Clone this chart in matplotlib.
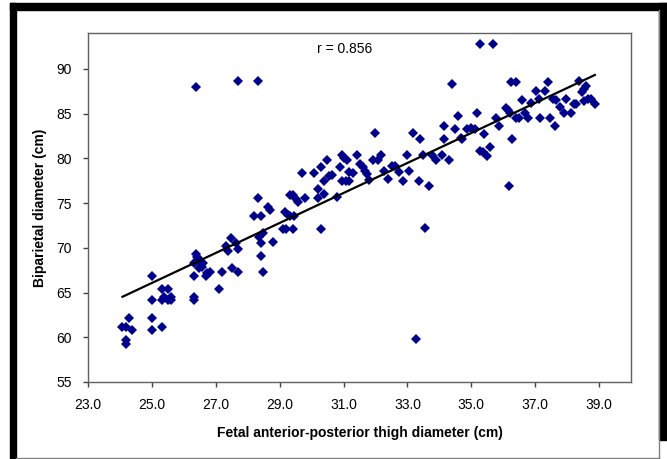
import numpy as np
import matplotlib
matplotlib.use("Agg")
import matplotlib.pyplot as plt
from matplotlib.patches import Rectangle
from matplotlib.lines import Line2D

"""
Biparietal diameter vs fetal anterior-posterior thigh diameter,
scatter with least-squares line (r = 0.856).
"""

# Data
thigh = [
    24.08, 24.20, 24.29, 24.39, 24.20, 24.20, 25.00, 25.00, 25.00, 25.00,
    25.31, 25.49, 25.31, 25.38, 25.49, 25.59, 25.59, 25.31, 26.32, 26.32,
    26.32, 26.32, 26.37, 26.42, 26.48, 26.53, 26.60, 26.48, 26.56, 26.69,
    26.74, 26.82, 27.11, 27.21, 27.32, 27.47, 27.39, 27.50, 27.63, 27.71,
    27.71, 28.31, 28.20, 28.41, 28.34, 28.41, 28.41, 28.49, 28.49, 28.62,
    28.70, 28.80, 26.37, 27.69, 28.31,
    29.32, 29.43, 29.51, 29.59, 29.80, 30.19, 30.40, 30.81, 29.18, 29.25,
    29.32, 29.46, 29.09, 29.20, 29.43, 30.31, 33.56, 33.27,
    34.40, 34.58, 34.16, 34.50, 34.16, 34.71, 32.00, 33.19, 33.40, 29.70,
    30.08, 30.29, 30.47, 30.95, 31.03, 31.10, 31.41, 30.89, 31.18, 31.52,
    31.60, 31.68, 31.72, 30.64, 30.55, 30.40, 30.95, 31.08, 31.18, 31.31,
    31.81, 31.93, 32.07, 32.17, 32.28, 32.38, 32.52, 32.60, 32.75, 32.87,
    33.00, 33.06, 33.37, 33.67, 33.50, 33.77, 33.88, 34.08, 34.29, 30.19,
    35.28, 35.68, 36.25, 36.39, 37.40, 38.37, 38.52, 38.58, 38.47, 37.02,
    37.30, 36.60, 36.88, 37.12, 37.56, 37.66, 37.98, 38.20, 38.29, 38.52,
    38.65, 38.76, 38.87, 37.77, 37.90, 38.11, 36.10, 36.15, 36.20, 36.39,
    36.50, 36.67, 36.77, 37.16, 37.47, 37.61, 35.78, 35.88, 35.18, 35.39,
    34.86, 35.00, 35.13, 34.68, 35.26, 35.38, 35.49, 35.60, 36.28, 36.17,
]
biparietal = [
    61.15, 61.15, 62.10, 60.86, 59.66, 59.20, 66.84, 64.20, 62.10, 60.86,
    65.35, 65.35, 64.15, 64.45, 64.15, 64.45, 64.15, 61.15, 66.84, 64.45,
    64.15, 68.33, 69.30, 69.00, 68.70, 68.33, 68.27, 67.70, 67.90, 66.84,
    67.14, 67.32, 65.35, 67.32, 70.20, 71.07, 69.68, 67.70, 70.50, 69.84,
    67.32, 75.56, 73.57, 73.57, 71.25, 70.58, 69.08, 71.63, 67.32, 74.55,
    74.17, 70.69, 88.00, 88.60, 88.60,
    75.93, 75.93, 75.45, 75.07, 75.56, 75.56, 76.00, 75.67, 73.95, 73.69,
    73.50, 73.57, 72.08, 72.08, 72.08, 72.08, 72.26, 59.85,
    88.28, 84.72, 83.60, 83.22, 82.18, 82.18, 82.78, 82.78, 82.18, 78.37,
    78.37, 79.04, 79.86, 80.42, 80.05, 79.78, 80.42, 79.04, 78.43, 79.41,
    79.04, 78.55, 78.29, 78.18, 77.99, 77.42, 77.42, 77.42, 77.42, 78.37,
    77.62, 79.86, 79.86, 80.42, 78.55, 77.70, 79.10, 79.10, 78.43, 77.42,
    80.42, 78.55, 77.42, 76.94, 80.42, 80.42, 79.86, 80.42, 79.86, 76.57,
    92.77, 92.77, 88.54, 88.47, 88.54, 88.65, 87.72, 88.09, 87.41, 87.52,
    87.52, 86.52, 86.22, 86.59, 86.67, 86.52, 86.59, 86.03, 86.03, 86.40,
    86.67, 86.59, 86.03, 85.77, 85.02, 85.02, 85.66, 85.39, 85.10, 84.54,
    84.54, 85.10, 84.54, 84.54, 84.54, 83.60, 84.54, 83.60, 85.10, 82.67,
    83.23, 83.42, 83.23, 82.30, 80.80, 80.68, 80.31, 81.28, 82.18, 76.94,
]
r_label = "r = 0.856"
x_ticks = [23.0, 25.0, 27.0, 29.0, 31.0, 33.0, 35.0, 37.0, 39.0]
y_ticks = [55, 60, 65, 70, 75, 80, 85, 90]

plt.rcParams['font.family'] = ['Liberation Sans', 'DejaVu Sans']

fig = plt.figure(figsize=(6.67, 4.59), dpi=100)
ax = fig.add_axes([88 / 667, 1 - 382 / 459, (631 - 88) / 667, (382 - 33) / 459])

# Scatter
ax.plot(thigh, biparietal, linestyle="none", marker="D", markersize=4.7,
        color="#00008B", markeredgewidth=0)

# Linear fit
x = np.array(thigh)
y = np.array(biparietal)
slope, intercept = np.polyfit(x, y, 1)
xs = np.array([x.min(), x.max()])
ax.plot(xs, intercept + slope * xs, color="black", linewidth=1.6)

ax.set_xlim(23.0, 40.0)
ax.set_ylim(55, 94)
ax.set_xticks(x_ticks)
ax.set_xticklabels([f"{t:.1f}" for t in x_ticks])
ax.set_yticks(y_ticks)
ax.tick_params(direction="out", length=3.5, width=1, color="#404040",
               labelsize=10, pad=8)
for s in ax.spines.values():
    s.set_color("#606060")
    s.set_linewidth(1.0)

ax.set_xlabel("Fetal anterior-posterior thigh diameter (cm)", fontsize=10,
              fontweight="bold", labelpad=10)
ax.set_ylabel("Biparietal diameter (cm)", fontsize=10, fontweight="bold",
              labelpad=7)
ax.text(0.473, 0.955, r_label, transform=ax.transAxes, ha="center",
        va="center", fontsize=10)

# Outer frame (black border from the original screenshot)
W, H = 667, 459
def box(x0, y0, x1, y1, color):
    fig.patches.append(Rectangle((x0 / W, 1 - y1 / H), (x1 - x0) / W,
                                 (y1 - y0) / H, transform=fig.transFigure,
                                 color=color, zorder=0))
box(10, 3, 16, 459, "black")
box(10, 3, 667, 10, "black")
box(659, 3, 667, 440, "black")
fig.lines.append(Line2D([16 / W, 659 / W], [1 - 458 / H, 1 - 458 / H],
                        transform=fig.transFigure, color="#808080", lw=1))
fig.lines.append(Line2D([659 / W, 659 / W], [1 - 458 / H, 1 - 10 / H],
                        transform=fig.transFigure, color="#808080", lw=1))

plt.savefig("out.png", dpi=100, facecolor="white")
